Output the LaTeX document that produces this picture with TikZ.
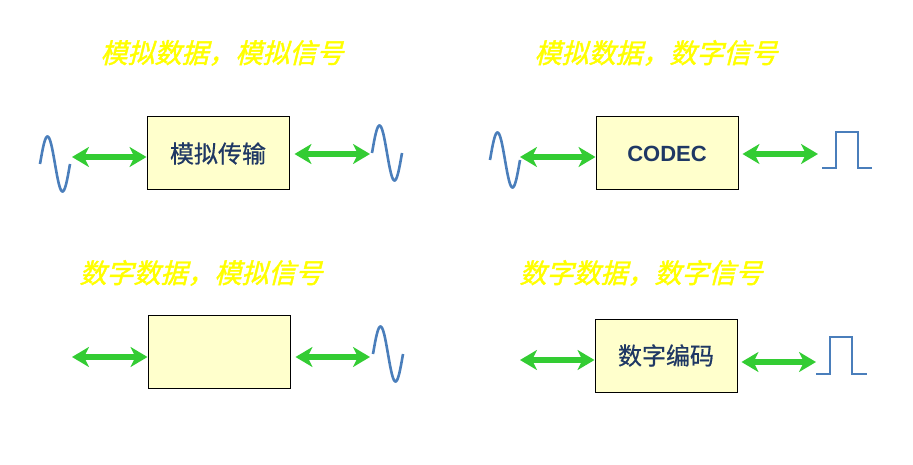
\documentclass[tikz,border=0pt]{standalone}
\usepackage{fontspec}
\setmainfont{Liberation Sans}
\newfontfamily\cjk[FakeBold=0.6]{Noto Sans CJK SC}
\newfontfamily\cjktitle[FakeSlant=0.25,FakeBold=1.5]{Noto Sans CJK SC}
\usepackage{xcolor}
\usepackage{tikz}
\usetikzlibrary{positioning,arrows.meta}
\definecolor{boxfill}{HTML}{FFFFCC}
\definecolor{boxtext}{HTML}{1F3864}
\definecolor{arrowgreen}{HTML}{33CC33}
\definecolor{sigblue}{HTML}{4A7EBB}
\definecolor{titleyellow}{HTML}{FFFF00}
\tikzset{
  block/.style={rectangle, draw=black, line width=1pt, fill=boxfill,
                minimum width=142pt, minimum height=73pt, inner sep=0pt,
                text=boxtext, font=\cjk\fontsize{24}{27}\selectfont},
  title/.style={text=titleyellow, font=\cjktitle\fontsize{27}{30}\selectfont, inner sep=0pt},
  dblarr/.style={{Stealth[length=17pt,width=20pt,inset=5pt]}-{Stealth[length=17pt,width=20pt,inset=5pt]},
                 line width=5.5pt, draw=arrowgreen},
  sig/.style={draw=sigblue, line width=2.6pt},
  pulse/.style={draw=sigblue, line width=1.4pt},
  sinewave/.pic={\draw[sig] plot[domain=0:30, samples=50, smooth] (\x, {-27.5*sin(12*\x)});},
}

\begin{document}
\begin{tikzpicture}[x=1pt, y=-1pt]
  \useasboundingbox (0,0) rectangle (913,465);

  % analog data, analog signal
  \node[title] (titleA) at (222,53) {模拟数据，模拟信号};
  \node[block] (boxA) at (218,153.5) {模拟传输};
  \pic at (40,164) {sinewave};
  \pic at (372,153) {sinewave};
  \coordinate (aAL) at (72,157);
  \coordinate (aAR) at (370,154);
  \draw[dblarr] (aAL) -- (boxA.west |- aAL);
  \draw[dblarr] (boxA.east |- aAR) ++(5,0) -- (aAR);

  % analog data, digital signal
  \node[title] (titleB) at (656,53) {模拟数据，数字信号};
  \node[block, font=\bfseries\fontsize{22}{26}\selectfont] (boxB) at (667,153.5) {CODEC};
  \pic at (490,160) {sinewave};
  \coordinate (aBL) at (520,157);
  \coordinate (aBR) at (818,154);
  \draw[dblarr] (aBL) -- (boxB.west |- aBL);
  \draw[dblarr] (boxB.east |- aBR) ++(4,0) -- (aBR);
  \draw[pulse] (822,168) -- (836,168) -- (836,132) -- (858,132) -- (858,168) -- (872,168);

  % digital data, analog signal
  \node[title] (titleC) at (201,273) {数字数据，模拟信号};
  \node[block] (boxC) at (219,352) {};
  \pic at (373,354) {sinewave};
  \coordinate (aCL) at (72,357);
  \coordinate (aCR) at (370,357);
  \draw[dblarr] (aCL) -- (boxC.west |- aCL);
  \draw[dblarr] (boxC.east |- aCR) ++(5,0) -- (aCR);

  % digital data, digital signal
  \node[title] (titleD) at (641,273) {数字数据，数字信号};
  \node[block] (boxD) at (666,355.5) {数字编码};
  \coordinate (aDL) at (520,360);
  \coordinate (aDR) at (816,362);
  \draw[dblarr] (aDL) -- (boxD.west |- aDL);
  \draw[dblarr] (boxD.east |- aDR) ++(4,0) -- (aDR);
  \draw[pulse] (816,374) -- (830,374) -- (830,337) -- (852,337) -- (852,374) -- (867,374);
\end{tikzpicture}
\end{document}
